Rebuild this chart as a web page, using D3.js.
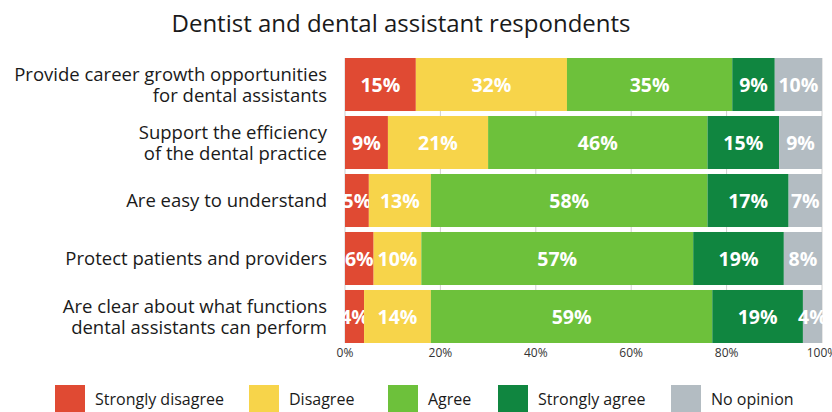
<!DOCTYPE html>
<html><head><meta charset="utf-8">
<script src="https://cdn.jsdelivr.net/npm/d3@7"></script>
<style>
body{margin:0;background:#fff;}
text{font-family:"Open Sans",sans-serif;}
</style></head>
<body><svg id="c" width="832" height="412"></svg>
<script>
const title = "Dentist and dental assistant respondents";
const categories = [
  ["Provide career growth opportunities","for dental assistants"],
  ["Support the efficiency","of the dental practice"],
  ["Are easy to understand"],
  ["Protect patients and providers"],
  ["Are clear about what functions","dental assistants can perform"]
];
const seriesNames = ["Strongly disagree","Disagree","Agree","Strongly agree","No opinion"];
const colors = ["#E04A33","#F7D44A","#6DC13B","#108640","#B3BCC2"];
const stronglyDisagree = [15,9,5,6,4];
const disagree = [32,21,13,10,14];
const agree = [35,46,58,57,59];
const stronglyAgree = [9,15,17,19,19];
const noOpinion = [10,9,7,8,4];
const tickValues = [0,20,40,60,80,100];
const tickLabels = ["0%","20%","40%","60%","80%","100%"];

const series = [stronglyDisagree,disagree,agree,stronglyAgree,noOpinion];
const svg = d3.select("#c");
const x = d3.scaleLinear().domain([0,100]).range([345,822]);
const y = d3.scaleBand().domain(d3.range(categories.length)).range([58,343]).paddingInner(0.086);

svg.append("text").attr("x",401).attr("y",32).attr("text-anchor","middle")
  .attr("font-size",24).attr("fill","#1a1a1a").text(title);

// gridlines
svg.append("g").selectAll("line").data(tickValues).join("line")
  .attr("x1",d=>x(d)).attr("x2",d=>x(d)).attr("y1",y(0)).attr("y2",y(4)+y.bandwidth())
  .attr("stroke","#d0d0d0").attr("stroke-width",1);

// stacked rows
categories.forEach((cat,i)=>{
  const vals = series.map(s=>s[i]);
  const total = d3.sum(vals);
  let acc = 0;
  const g = svg.append("g");
  vals.forEach((v,j)=>{
    const x0 = acc/total*100, x1 = (acc+v)/total*100;
    acc += v;
    g.append("rect").attr("x",x(x0)).attr("y",y(i)).attr("width",x(x1)-x(x0)).attr("height",y.bandwidth())
      .attr("fill",colors[j]);
    g.append("text").attr("x",(x(x0)+x(x1))/2).attr("y",y(i)+y.bandwidth()/2).attr("dy","0.36em")
      .attr("text-anchor","middle").attr("font-size",19.5).attr("font-weight",700).attr("fill","#fff")
      .text(v+"%");
  });
  const t = svg.append("text").attr("text-anchor","end").attr("font-size",18.5).attr("fill","#1a1a1a");
  const n = cat.length, lh = 21;
  cat.forEach((line,k)=>{
    t.append("tspan").attr("x",327).attr("y",y(i)+y.bandwidth()/2+(k-(n-1)/2)*lh).attr("dy","0.36em").text(line);
  });
});

// axis labels
svg.append("g").selectAll("text").data(tickValues).join("text")
  .attr("x",d=>x(d)).attr("y",357).attr("text-anchor","middle").attr("font-size",12).attr("fill","#333")
  .text((d,i)=>tickLabels[i]);

// legend
const legX = [55,249,388,498,671];
seriesNames.forEach((name,j)=>{
  svg.append("rect").attr("x",legX[j]).attr("y",385).attr("width",30).attr("height",30).attr("fill",colors[j]);
  svg.append("text").attr("x",legX[j]+40).attr("y",405).attr("font-size",16).attr("fill","#1a1a1a").text(name);
});
</script></body></html>
